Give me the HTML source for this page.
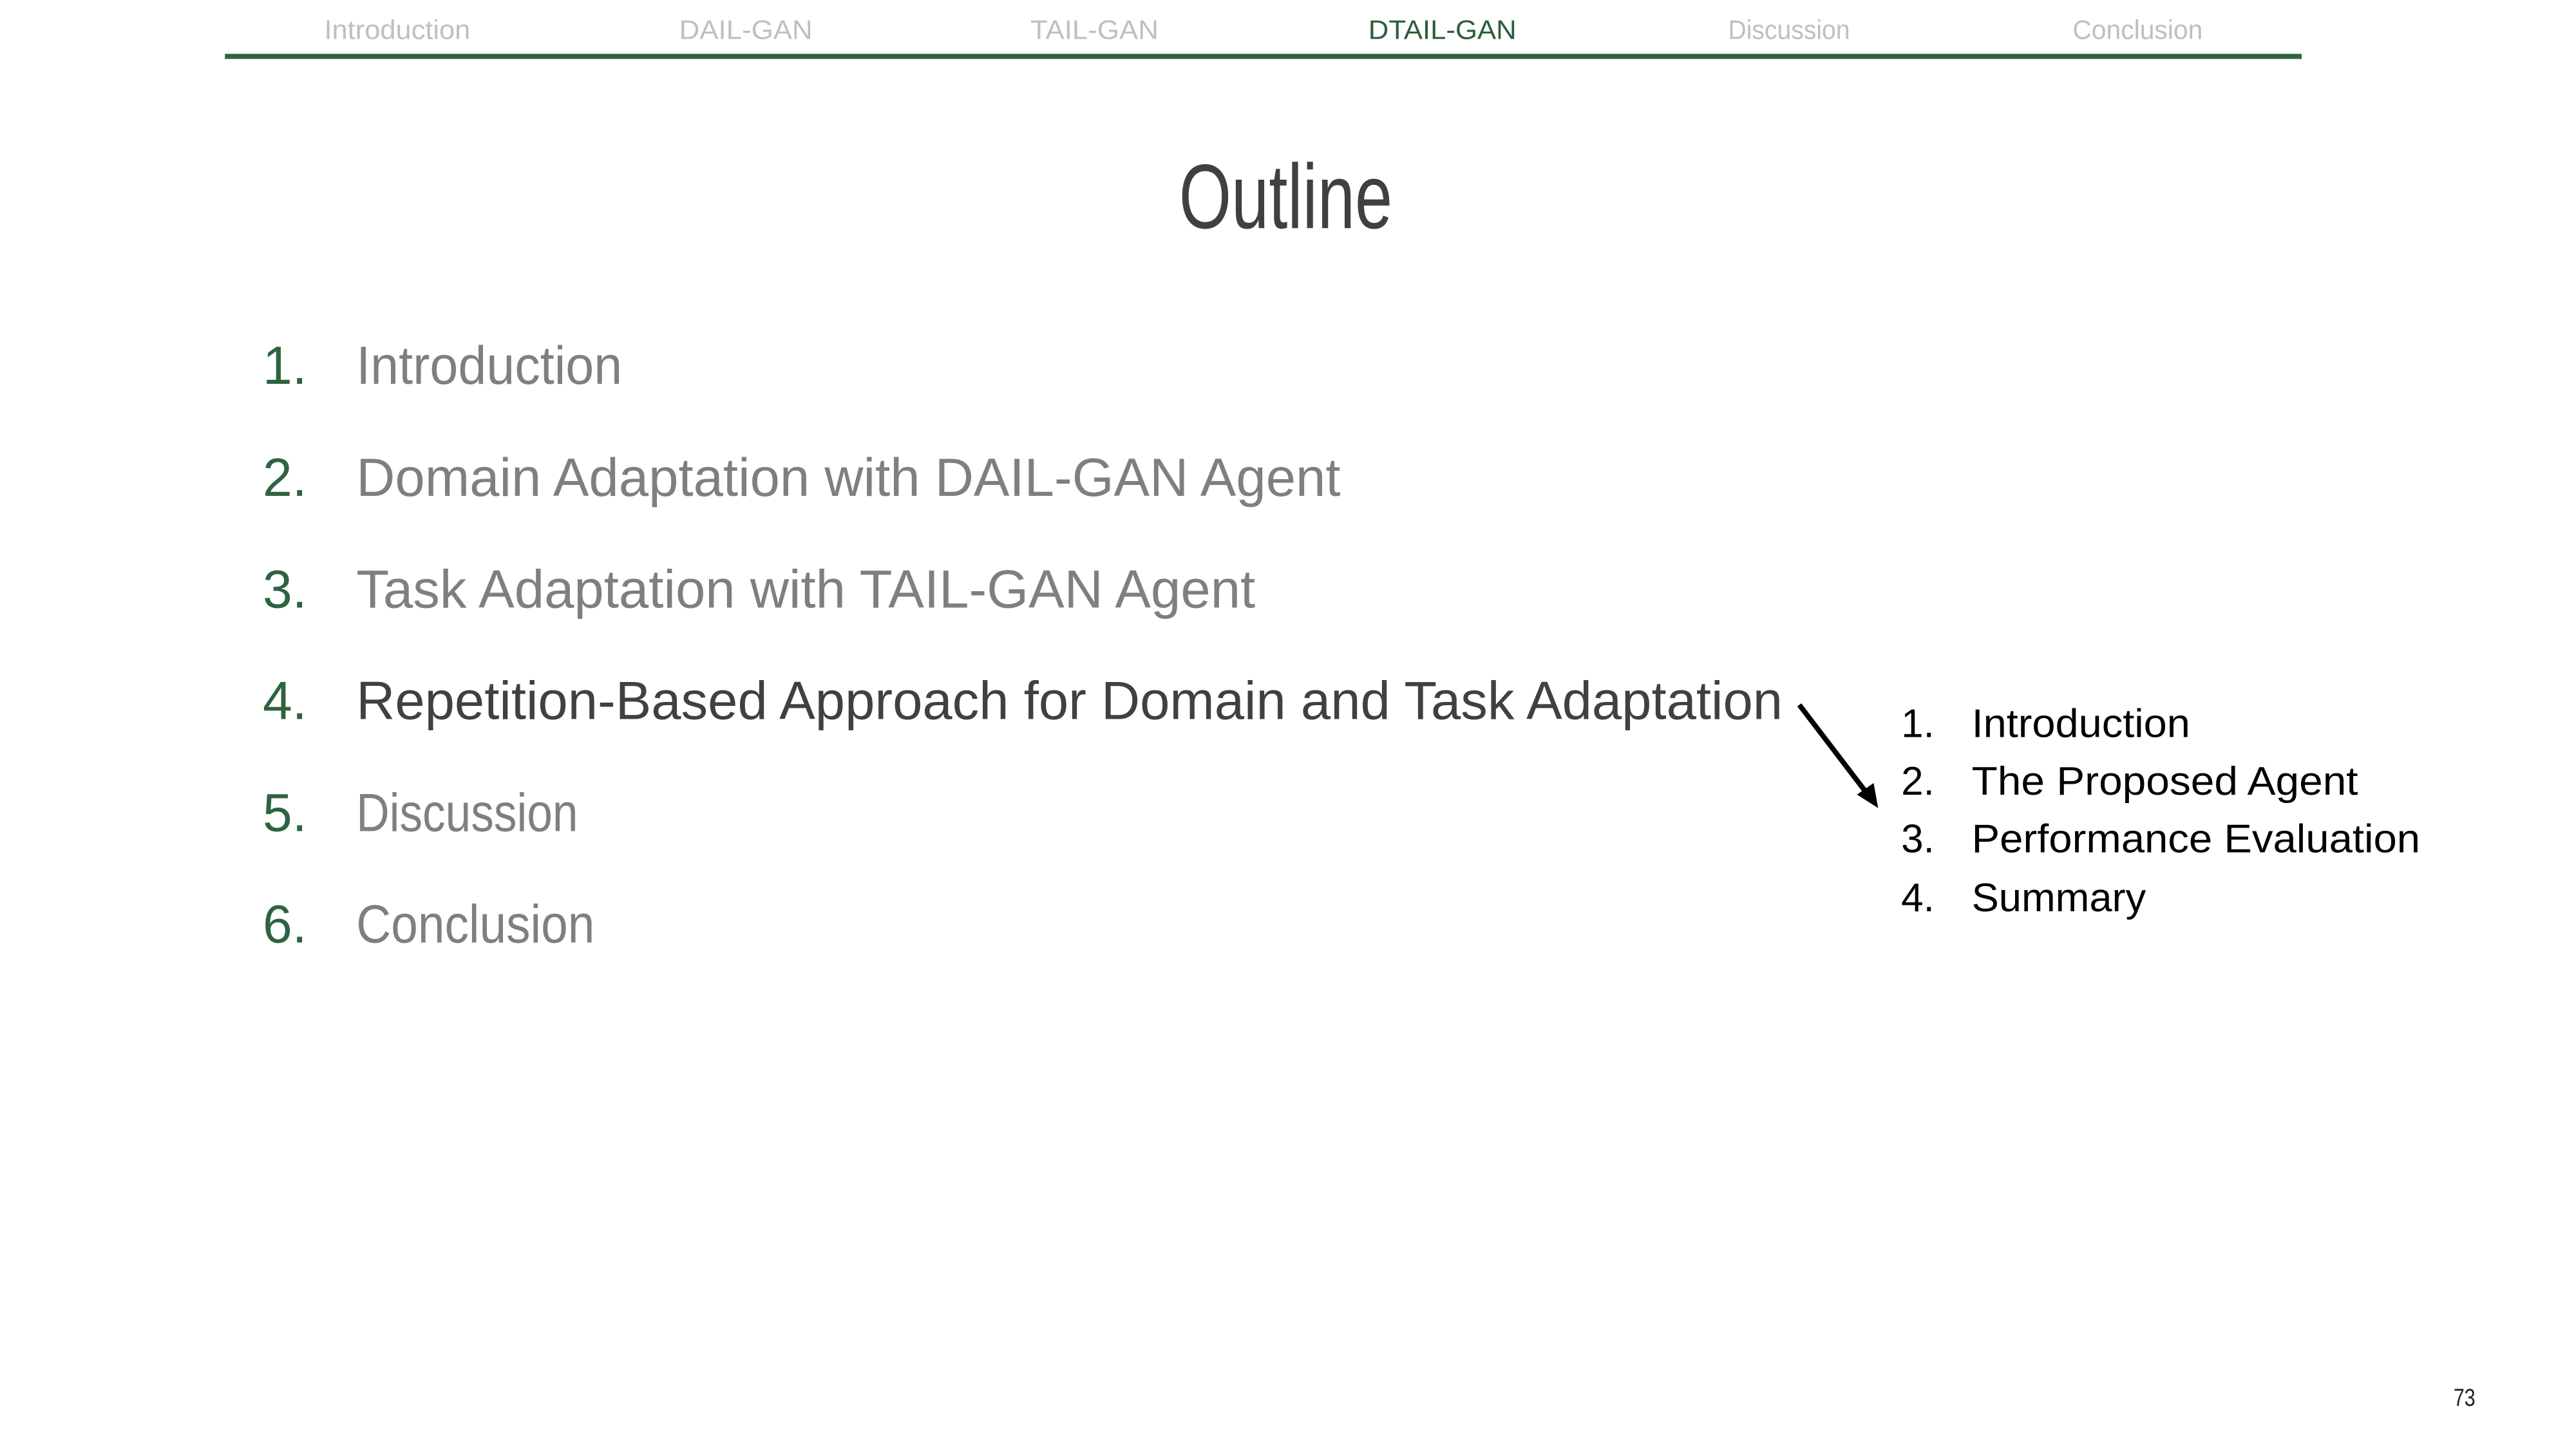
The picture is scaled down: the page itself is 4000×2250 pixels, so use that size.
<!DOCTYPE html>
<html><head><meta charset="utf-8"><style>
html,body{margin:0;padding:0;background:#fff;}
svg{display:block;}
text{font-family:"Liberation Sans",sans-serif;}
</style></head><body>
<svg width="4000" height="2250" viewBox="0 0 4000 2250" xmlns="http://www.w3.org/2000/svg">
<rect width="4000" height="2250" fill="#fff"/>
<g transform="scale(0.995)">
<!-- nav -->
<g font-size="42" fill="#bfbfbf" text-anchor="middle">
<text x="620" y="61" textLength="228" lengthAdjust="spacingAndGlyphs">Introduction</text>
<text x="1164" y="61" textLength="208" lengthAdjust="spacingAndGlyphs">DAIL-GAN</text>
<text x="1708" y="61" textLength="200" lengthAdjust="spacingAndGlyphs">TAIL-GAN</text>
<text x="2251" y="61" textLength="231" lengthAdjust="spacingAndGlyphs" fill="#2a5e3a">DTAIL-GAN</text>
<text x="2792" y="61" textLength="190" lengthAdjust="spacingAndGlyphs">Discussion</text>
<text x="3336" y="61" textLength="203" lengthAdjust="spacingAndGlyphs">Conclusion</text>
</g>
<rect x="351" y="84" width="3241" height="8" fill="#306440"/>
<!-- title -->
<text x="1840" y="356" font-size="143" fill="#404040" textLength="333" lengthAdjust="spacingAndGlyphs">Outline</text>
<!-- main list -->
<g font-size="84">
<g fill="#2e6340">
<text x="410" y="599" textLength="69" lengthAdjust="spacingAndGlyphs">1.</text>
<text x="410" y="774" textLength="69" lengthAdjust="spacingAndGlyphs">2.</text>
<text x="410" y="948" textLength="69" lengthAdjust="spacingAndGlyphs">3.</text>
<text x="410" y="1122" textLength="69" lengthAdjust="spacingAndGlyphs">4.</text>
<text x="410" y="1297" textLength="69" lengthAdjust="spacingAndGlyphs">5.</text>
<text x="410" y="1471" textLength="69" lengthAdjust="spacingAndGlyphs">6.</text>
</g>
<g fill="#7f7f7f">
<text x="556" y="599" textLength="415" lengthAdjust="spacingAndGlyphs">Introduction</text>
<text x="556" y="774" textLength="1536" lengthAdjust="spacingAndGlyphs">Domain Adaptation with DAIL-GAN Agent</text>
<text x="556" y="948" textLength="1403" lengthAdjust="spacingAndGlyphs">Task Adaptation with TAIL-GAN Agent</text>
<text x="556" y="1122" textLength="2226" lengthAdjust="spacingAndGlyphs" fill="#404040">Repetition-Based Approach for Domain and Task Adaptation</text>
<text x="556" y="1297" textLength="346" lengthAdjust="spacingAndGlyphs">Discussion</text>
<text x="556" y="1471" textLength="372" lengthAdjust="spacingAndGlyphs">Conclusion</text>
</g>
</g>
<!-- arrow -->
<line x1="2808" y1="1100" x2="2918" y2="1244" stroke="#000" stroke-width="8"/>
<polygon points="2931,1261 2898,1240 2924,1222" fill="#000"/>
<!-- sublist -->
<g font-size="62" fill="#000">
<text x="2967" y="1150" textLength="52" lengthAdjust="spacingAndGlyphs">1.</text>
<text x="2967" y="1240" textLength="52" lengthAdjust="spacingAndGlyphs">2.</text>
<text x="2967" y="1330" textLength="52" lengthAdjust="spacingAndGlyphs">3.</text>
<text x="2967" y="1422" textLength="52" lengthAdjust="spacingAndGlyphs">4.</text>
<text x="3077" y="1150" textLength="341" lengthAdjust="spacingAndGlyphs">Introduction</text>
<text x="3077" y="1240" textLength="603" lengthAdjust="spacingAndGlyphs">The Proposed Agent</text>
<text x="3077" y="1330" textLength="700" lengthAdjust="spacingAndGlyphs">Performance Evaluation</text>
<text x="3077" y="1422" textLength="272" lengthAdjust="spacingAndGlyphs">Summary</text>
</g>
<!-- page number -->
<text x="3846" y="2194" font-size="38" fill="#222" text-anchor="middle" textLength="34" lengthAdjust="spacingAndGlyphs">73</text>
</g>
</svg>
</body></html>
